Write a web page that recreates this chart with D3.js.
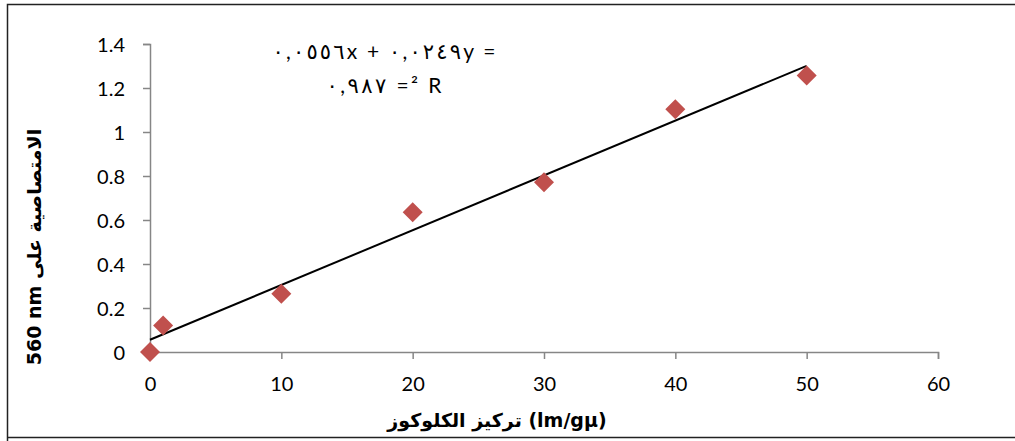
<!DOCTYPE html>
<html>
<head>
<meta charset="utf-8">
<style>
    body { margin: 0; background: #fff; }
    svg { display: block; }
    .tick text { font-family: Lato, "Open Sans", sans-serif; font-size: 20px; fill: #000; }
</style>
</head>
<body>
<svg width="1015" height="441"></svg>
<script src="https://d3js.org/d3.v7.min.js"></script>
<script>
    // data
    const glucose = [0, 1, 10, 20, 30, 40, 50];
    const absorb = [0, 0.12, 0.265, 0.635, 0.772, 1.103, 1.257];
    const xTicks = [0, 10, 20, 30, 40, 50, 60];
    const yTicks = [0, 0.2, 0.4, 0.6, 0.8, 1, 1.2, 1.4];
    const trend = [0.0249, 0.0556]; // slope, intercept
    const eqLines = ["٠,٠٥٥٦x + ٠,٠٢٤٩y =", "٠,٩٨٧ =² R"];
    const eqWidths = [223, 115];

    const width = 1015, height = 441;
    const margin = {top: 44, right: 77, bottom: 89, left: 150};
    const svg = d3.select("svg");

    // outer chart border
    svg.append("path")
        .attr("d", `M7.5,${height + 5}V4.5H${width + 5}`)
        .attr("fill", "none")
        .attr("stroke", "#222")
        .attr("stroke-width", 1.5);
    svg.append("line")
        .attr("x1", 7).attr("x2", width + 5)
        .attr("y1", 437.5).attr("y2", 437.5)
        .attr("stroke", "#222").attr("stroke-width", 1.5);

    const x = d3.scaleLinear().domain([0, 60]).range([margin.left, width - margin.right]);
    const y = d3.scaleLinear().domain([0, 1.4]).range([height - margin.bottom, margin.top]);

    const xAxis = svg.append("g")
        .attr("transform", `translate(0,${y(0)})`)
        .call(d3.axisBottom(x).tickValues(xTicks).tickSize(7).tickPadding(18).tickFormat(d3.format("d")));
    const yAxis = svg.append("g")
        .attr("transform", `translate(${x(0)},0)`)
        .call(d3.axisLeft(y).tickValues(yTicks).tickSize(7).tickPadding(18).tickFormat(d => d));
    [xAxis, yAxis].forEach(g => {
        g.select(".domain").attr("stroke", "#868686").attr("stroke-width", 1.5);
        g.selectAll(".tick line").attr("stroke", "#868686").attr("stroke-width", 1.5);
    });
    yAxis.selectAll(".tick text").attr("dy", "0.36em");

    // trend line
    svg.append("line")
        .attr("x1", x(0)).attr("y1", y(trend[1]))
        .attr("x2", x(50)).attr("y2", y(trend[0] * 50 + trend[1]))
        .attr("stroke", "#000").attr("stroke-width", 2);

    // diamonds
    svg.append("g")
        .selectAll("path")
        .data(glucose)
        .join("path")
        .attr("transform", (d, i) => `translate(${x(d)},${y(absorb[i])})`)
        .attr("d", "M0,-10L10,0L0,10L-10,0Z")
        .attr("fill", "#C0504D");

    // equation
    svg.append("g")
        .attr("font-family", "Lato, 'DejaVu Sans', sans-serif")
        .attr("font-size", 21)
        .attr("text-anchor", "middle")
        .selectAll("text")
        .data(eqLines)
        .join("text")
        .attr("direction", "ltr")
        .attr("x", 384)
        .attr("y", (d, i) => 59 + i * 34)
        .attr("textLength", (d, i) => eqWidths[i])
        .attr("lengthAdjust", "spacing")
        .text(d => d);

    // axis titles
    svg.append("text")
        .attr("x", 497).attr("y", 427)
        .attr("text-anchor", "middle")
        .attr("font-family", "'DejaVu Sans', sans-serif")
        .attr("font-weight", "bold")
        .attr("font-size", 19)
        .text("\u200Eتركيز الكلوكوز (lm/gμ)");

    svg.append("text")
        .attr("transform", `translate(41,247) rotate(-90)`)
        .attr("text-anchor", "middle")
        .attr("font-family", "'DejaVu Sans', sans-serif")
        .attr("font-weight", "bold")
        .attr("font-size", 19)
        .text("560 nm الامتصاصية على");
</script>
</body>
</html>
